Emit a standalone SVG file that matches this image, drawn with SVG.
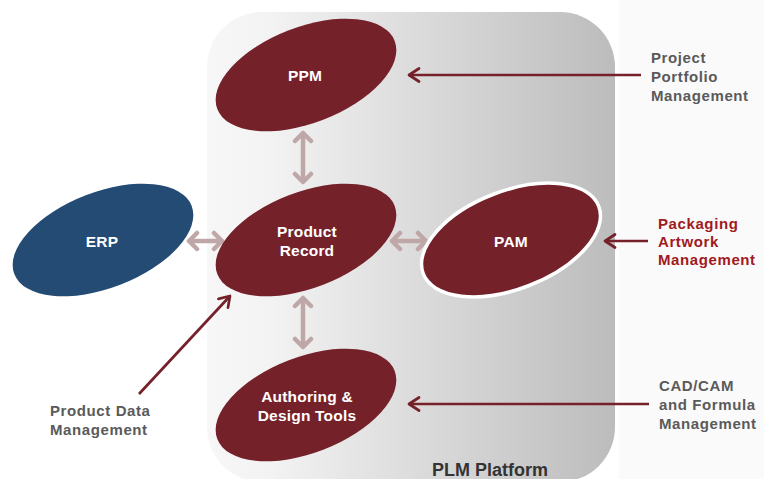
<svg xmlns="http://www.w3.org/2000/svg" width="764" height="479" viewBox="0 0 764 479">
<style>
  .node { fill: #75212a; }
  .erp { fill: #244b73; }
  .ntext { font-family: "Liberation Sans", Arial, sans-serif; font-weight: bold; font-size: 15.5px; fill: #ffffff; text-anchor: middle; letter-spacing: 0.2px; }
  .side { font-family: "Liberation Sans", Arial, sans-serif; font-weight: bold; font-size: 15px; fill: #5a5a5a; letter-spacing: 0.6px; }
  .sidered { fill: #a01a1e; }
  .plm { font-family: "Liberation Sans", Arial, sans-serif; font-weight: bold; font-size: 18px; fill: #333333; }
  .dbl { fill: none; stroke: #bfa7a8; stroke-width: 4.5; marker-start: url(#dblhead); marker-end: url(#dblhead); }
  .red { fill: none; stroke: #75212a; stroke-width: 2.7; marker-end: url(#redhead); }
</style>
<defs>
  <linearGradient id="plat" x1="0" y1="0" x2="1" y2="0">
    <stop offset="0" stop-color="#f7f7f7"/>
    <stop offset="0.15" stop-color="#f3f3f3"/>
    <stop offset="1" stop-color="#bcbcbc"/>
  </linearGradient>
  <marker id="dblhead" viewBox="0 0 22 22" refX="18" refY="11" markerWidth="22" markerHeight="22" markerUnits="userSpaceOnUse" orient="auto-start-reverse">
    <path d="M10,3 L18,11 L10,19" fill="none" stroke="#bfa7a8" stroke-width="4.5" stroke-linecap="round" stroke-linejoin="round"/>
  </marker>
  <marker id="redhead" viewBox="0 0 16 16" refX="13" refY="8" markerWidth="16" markerHeight="16" markerUnits="userSpaceOnUse" orient="auto">
    <path d="M3,1.5 L13,8 L3,14.5" fill="none" stroke="#75212a" stroke-width="2.7" stroke-linecap="round" stroke-linejoin="round"/>
  </marker>
</defs>
<rect x="0" y="0" width="764" height="479" fill="#ffffff"/>
<rect x="619" y="0" width="145" height="479" fill="#fafafa"/>
<g id="platform">
  <rect x="207" y="12" width="408" height="470" rx="55" ry="55" fill="url(#plat)"/>
  <text class="plm" x="432" y="476">PLM Platform</text>
</g>
<g id="connectors">
  <path class="dbl" d="M303,133 L303,182"/>
  <path class="dbl" d="M303,298 L303,347"/>
  <path class="dbl" d="M189,241 L222,241"/>
  <path class="dbl" d="M392,241 L426,241"/>
  <path class="red" d="M641,75 L409,75"/>
  <path class="red" d="M648,241 L605,241"/>
  <path class="red" d="M649,404 L409,404"/>
  <path class="red" d="M139,394 L230,296"/>
</g>
<g id="ppm">
  <ellipse class="node" cx="306" cy="75" rx="95" ry="48" transform="rotate(-21 306 75)"/>
  <text class="ntext" x="305" y="81">PPM</text>
</g>
<g id="product-record">
  <ellipse class="node" cx="306" cy="240" rx="95" ry="48" transform="rotate(-21 306 240)"/>
  <text class="ntext" x="307" y="237">Product</text>
  <text class="ntext" x="307" y="256">Record</text>
</g>
<g id="authoring">
  <ellipse class="node" cx="306" cy="405" rx="95" ry="48" transform="rotate(-21 306 405)"/>
  <text class="ntext" x="307" y="402">Authoring &amp;</text>
  <text class="ntext" x="307" y="421">Design Tools</text>
</g>
<g id="pam">
  <ellipse class="node" cx="511" cy="240" rx="94" ry="49" transform="rotate(-21 511 240)" stroke="#ffffff" stroke-width="3.5"/>
  <text class="ntext" x="511" y="247">PAM</text>
</g>
<g id="erp">
  <ellipse class="erp" cx="103" cy="240" rx="95" ry="48" transform="rotate(-21 103 240)"/>
  <text class="ntext" x="102" y="247">ERP</text>
</g>
<g id="label-ppm">
  <text class="side" x="651" y="63">Project</text>
  <text class="side" x="651" y="82">Portfolio</text>
  <text class="side" x="651" y="101">Management</text>
</g>
<g id="label-pam">
  <text class="side sidered" x="658" y="229">Packaging</text>
  <text class="side sidered" x="658" y="247">Artwork</text>
  <text class="side sidered" x="658" y="265">Management</text>
</g>
<g id="label-cad">
  <text class="side" x="659" y="391">CAD/CAM</text>
  <text class="side" x="659" y="410">and Formula</text>
  <text class="side" x="659" y="429">Management</text>
</g>
<g id="label-pdm">
  <text class="side" x="50" y="416">Product Data</text>
  <text class="side" x="50" y="435">Management</text>
</g>
</svg>
